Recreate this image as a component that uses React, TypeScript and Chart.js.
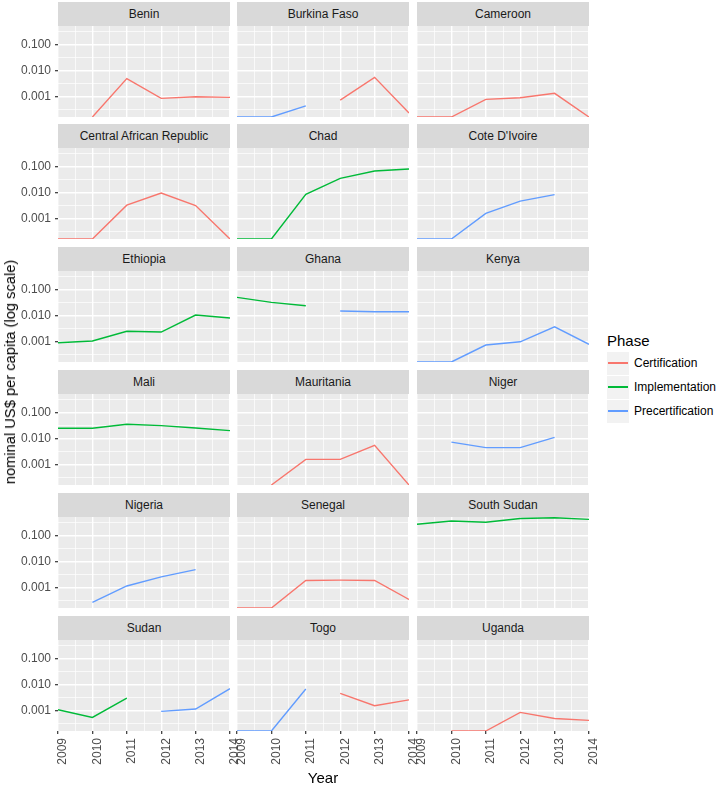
import React, { useEffect, useRef } from 'react';
import { Chart, registerables } from 'chart.js';

Chart.register(...registerables);

const FONT = '"Liberation Sans", Arial, Helvetica, sans-serif';

// ---------- data ----------
const YEARS = [2009, 2010, 2011, 2012, 2013, 2014];
const COUNTRIES = [
  'Benin', 'Burkina Faso', 'Cameroon',
  'Central African Republic', 'Chad', "Cote D'Ivoire",
  'Ethiopia', 'Ghana', 'Kenya',
  'Mali', 'Mauritania', 'Niger',
  'Nigeria', 'Senegal', 'South Sudan',
  'Sudan', 'Togo', 'Uganda',
];
const PHASES = ['Certification', 'Implementation', 'Precertification'];
const PHASE_COLORS = ['#F8766D', '#00BA38', '#619CFF'];

// value 0 => drawn at the panel floor (log of zero); null => no data
const CERTIFICATION: (number | null)[][] = [
  [null, 0, 0.0049, 0.00087, 0.001, 0.00095],
  [null, null, null, 0.00075, 0.0055, 0.00024],
  [0, 0, 0.0008, 0.00092, 0.00135, 0],
  [0, 0, 0.0033, 0.0095, 0.0032, 0],
  [null, null, null, null, null, null],
  [null, null, null, null, null, null],
  [null, null, null, null, null, null],
  [null, null, null, null, null, null],
  [null, null, null, null, null, null],
  [null, null, null, null, null, null],
  [null, 0, 0.0016, 0.0016, 0.0055, 0],
  [null, null, null, null, null, null],
  [null, null, null, null, null, null],
  [0, 0, 0.0019, 0.00195, 0.0019, 0.00036],
  [null, null, null, null, null, null],
  [null, null, null, null, null, null],
  [null, null, null, 0.0046, 0.00155, 0.0026],
  [null, 0, 0, 0.00087, 0.00051, 0.00043],
];
const IMPLEMENTATION: (number | null)[][] = [
  [null, null, null, null, null, null],
  [null, null, null, null, null, null],
  [null, null, null, null, null, null],
  [null, null, null, null, null, null],
  [0, 0, 0.0085, 0.0345, 0.066, 0.078],
  [null, null, null, null, null, null],
  [0.00092, 0.00107, 0.0025, 0.00235, 0.0104, 0.008],
  [0.049, 0.0316, 0.0235, null, null, null],
  [null, null, null, null, null, null],
  [0.0244, 0.0244, 0.0346, 0.031, 0.025, 0.02],
  [null, null, null, null, null, null],
  [null, null, null, null, null, null],
  [null, null, null, null, null, null],
  [null, null, null, null, null, null],
  [0.26, 0.347, 0.31, 0.43, 0.46, 0.4],
  [0.0011, 0.00056, 0.003, null, null, null],
  [null, null, null, null, null, null],
  [null, null, null, null, null, null],
];
const PRECERTIFICATION: (number | null)[][] = [
  [null, null, null, null, null, null],
  [0, 0, 0.00045, null, null, null],
  [null, null, null, null, null, null],
  [null, null, null, null, null, null],
  [null, null, null, null, null, null],
  [0, 0, 0.0016, 0.0047, 0.0083, null],
  [null, null, null, null, null, null],
  [null, null, null, 0.0148, 0.0139, 0.0139],
  [0, 0, 0.00075, 0.001, 0.0037, 0.0008],
  [null, null, null, null, null, null],
  [null, null, null, null, null, null],
  [null, 0.0073, 0.0045, 0.0045, 0.011, null],
  [null, 0.00028, 0.00117, 0.0026, 0.0049, null],
  [null, null, null, null, null, null],
  [null, null, null, null, null, null],
  [null, null, null, 0.00095, 0.00117, 0.0069],
  [0, 0, 0.0067, null, null, null],
  [null, null, null, null, null, null],
];

const Y_MAJOR = [0.001, 0.01, 0.1];
const Y_MAJOR_LABELS = ['0.001', '0.010', '0.100'];
const Y_MINOR = [0.000316, 0.00316, 0.0316, 0.316];
const X_MINOR = [2009.5, 2010.5, 2011.5, 2012.5, 2013.5];
const Y_MIN = 0.00017;
const Y_MAX = 0.493;

// ---------- layout ----------
const COL_LEFT = [58, 237, 417];
const PANEL_W = 172;
const ROW_TOP = [2, 124, 247, 370, 493, 616];
const STRIP_H = 24;
const PANEL_H = 91;
const PAD_L = 58;
const PAD_R = 14;
const PAD_B = 40;

const bgPlugin = {
  id: 'panelBg',
  beforeDraw(chart: any) {
    const { ctx, chartArea: a } = chart;
    ctx.save();
    ctx.fillStyle = '#EBEBEB';
    ctx.fillRect(a.left, a.top, a.right - a.left, a.bottom - a.top);
    ctx.restore();
  },
};

const makeFit = (size: number) => (s: any) => {
  s.paddingLeft = 0;
  s.paddingRight = 0;
  s.paddingTop = 0;
  s.paddingBottom = 0;
  if (s.isHorizontal()) s.height = size;
  else s.width = size;
};

const isMajorX = (v: number) => Math.abs(v - Math.round(v)) < 1e-6;
const majorYIndex = (v: number) => Y_MAJOR.findIndex((m) => Math.abs(Math.log10(v) - Math.log10(m)) < 1e-4);

function Panel({ index }: { index: number }) {
  const ref = useRef<HTMLCanvasElement>(null);
  const r = Math.floor(index / 3);
  const c = index % 3;
  const showY = c === 0;
  const showX = r === 5;
  const left = COL_LEFT[c] - PAD_L;
  const top = ROW_TOP[r] + STRIP_H;
  const width = PAD_L + PANEL_W + PAD_R;
  const height = PANEL_H + PAD_B;

  useEffect(() => {
    if (!ref.current) return;
    const series = [CERTIFICATION, IMPLEMENTATION, PRECERTIFICATION];
    const datasets = series.map((arr, p) => ({
      label: PHASES[p],
      data: YEARS.map((yr, i) => {
        const v = arr[index][i];
        return { x: yr, y: v === null ? null : v === 0 ? Y_MIN : v };
      }),
      borderColor: PHASE_COLORS[p],
      backgroundColor: PHASE_COLORS[p],
      borderWidth: 1.4,
      pointRadius: 0,
      pointHoverRadius: 0,
      fill: false,
      tension: 0,
      spanGaps: false,
    }));
    const chart = new Chart(ref.current, {
      type: 'line',
      data: { datasets },
      plugins: [bgPlugin],
      options: {
        animation: false,
        responsive: false,
        devicePixelRatio: 1,
        events: [],
        layout: {
          padding: {
            left: showY ? 0 : PAD_L,
            right: PAD_R,
            top: 0,
            bottom: showX ? 0 : PAD_B,
          },
        },
        plugins: { legend: { display: false }, tooltip: { enabled: false }, title: { display: false } },
        scales: {
          x: {
            type: 'linear',
            position: 'bottom',
            bounds: 'data',
            min: 2009,
            max: 2014,
            afterBuildTicks: (s: any) => {
              s.ticks = [...YEARS, ...X_MINOR].sort((a, b) => a - b).map((v) => ({ value: v }));
            },
            afterFit: makeFit(showX ? PAD_B : 0),
            border: { display: false },
            grid: {
              color: '#FFFFFF',
              lineWidth: (ctx: any) => (ctx.tick && isMajorX(ctx.tick.value) ? 1.4 : 0.7),
              drawTicks: showX,
              tickLength: 3,
              tickWidth: 1.2,
              tickColor: (ctx: any) => (ctx.tick && isMajorX(ctx.tick.value) ? '#333333' : 'rgba(0,0,0,0)'),
            },
            ticks: {
              display: showX,
              autoSkip: false,
              minRotation: 90,
              maxRotation: 90,
              padding: 4,
              labelOffset: 5,
              color: '#4D4D4D',
              font: { family: FONT, size: 12 },
              callback: (v: any) => (isMajorX(Number(v)) ? String(Math.round(Number(v))) : ''),
            },
          },
          y: {
            type: 'logarithmic',
            position: 'left',
            bounds: 'data',
            min: Y_MIN,
            max: Y_MAX,
            afterBuildTicks: (s: any) => {
              s.ticks = [...Y_MAJOR, ...Y_MINOR].sort((a, b) => a - b).map((v) => ({ value: v }));
            },
            afterFit: makeFit(showY ? PAD_L : 0),
            border: { display: false },
            grid: {
              color: '#FFFFFF',
              lineWidth: (ctx: any) => (ctx.tick && majorYIndex(ctx.tick.value) >= 0 ? 1.4 : 0.7),
              drawTicks: showY,
              tickLength: 3,
              tickWidth: 1.2,
              tickColor: (ctx: any) => (ctx.tick && majorYIndex(ctx.tick.value) >= 0 ? '#333333' : 'rgba(0,0,0,0)'),
            },
            ticks: {
              display: showY,
              autoSkip: false,
              padding: 4,
              color: '#4D4D4D',
              font: { family: FONT, size: 12 },
              callback: (v: any) => {
                const k = majorYIndex(Number(v));
                return k >= 0 ? Y_MAJOR_LABELS[k] : '';
              },
            },
          },
        },
      } as any,
    });
    return () => chart.destroy();
  }, [index]);

  return (
    <>
      <div
        style={{
          position: 'absolute',
          left: COL_LEFT[c],
          top: ROW_TOP[r],
          width: PANEL_W,
          height: STRIP_H,
          background: '#D9D9D9',
          color: '#1A1A1A',
          font: `12px ${FONT}`,
          lineHeight: `${STRIP_H}px`,
          textAlign: 'center',
          whiteSpace: 'nowrap',
        }}
      >
        {COUNTRIES[index]}
      </div>
      <canvas
        ref={ref}
        width={width}
        height={height}
        style={{ position: 'absolute', left, top, width, height, display: 'block' }}
      />
    </>
  );
}

export default function App() {
  return (
    <div
      style={{
        position: 'absolute',
        left: 0,
        top: 0,
        width: 717,
        height: 785,
        background: '#FFFFFF',
        overflow: 'hidden',
        fontFamily: FONT,
      }}
    >
      {COUNTRIES.map((_, i) => (
        <Panel key={i} index={i} />
      ))}
      <div
        style={{
          position: 'absolute',
          left: 10,
          top: 372,
          transform: 'translate(-50%, -50%) rotate(-90deg)',
          whiteSpace: 'nowrap',
          font: `14.7px ${FONT}`,
          color: '#000000',
        }}
      >
        nominal US$ per capita (log scale)
      </div>
      <div
        style={{
          position: 'absolute',
          left: 323,
          top: 777,
          transform: 'translate(-50%, -50%)',
          whiteSpace: 'nowrap',
          font: `15px ${FONT}`,
          color: '#000000',
        }}
      >
        Year
      </div>
      <div
        style={{
          position: 'absolute',
          left: 607,
          top: 340,
          transform: 'translateY(-50%)',
          whiteSpace: 'nowrap',
          font: `15px ${FONT}`,
          color: '#000000',
        }}
      >
        Phase
      </div>
      {PHASES.map((p, i) => (
        <React.Fragment key={p}>
          <div
            style={{
              position: 'absolute',
              left: 607,
              top: 352 + i * 24,
              width: 22,
              height: 23,
              background: '#F2F2F2',
            }}
          />
          <div
            style={{
              position: 'absolute',
              left: 608,
              top: 362 + i * 24,
              width: 20,
              height: 2,
              background: PHASE_COLORS[i],
            }}
          />
          <div
            style={{
              position: 'absolute',
              left: 634,
              top: 363 + i * 24,
              transform: 'translateY(-50%)',
              whiteSpace: 'nowrap',
              font: `12px ${FONT}`,
              color: '#000000',
            }}
          >
            {p}
          </div>
        </React.Fragment>
      ))}
    </div>
  );
}
